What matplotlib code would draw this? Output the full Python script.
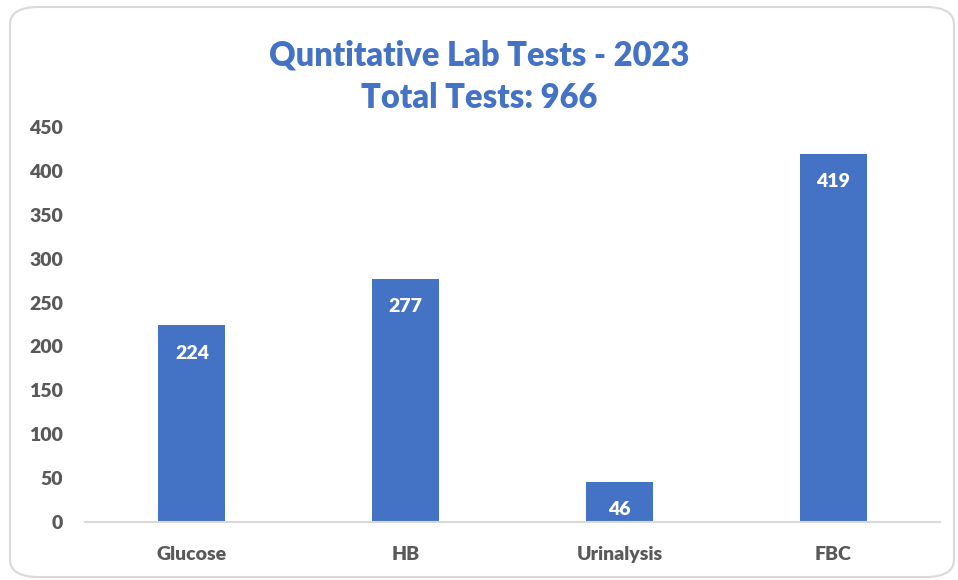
import matplotlib
matplotlib.use("Agg")
import matplotlib.pyplot as plt
from matplotlib.patches import FancyBboxPatch

categories = ["Glucose", "HB", "Urinalysis", "FBC"]
values = [224, 277, 46, 419]
yticks = [0, 50, 100, 150, 200, 250, 300, 350, 400, 450]
title_lines = ["Quntitative Lab Tests - 2023", "Total Tests: 966"]

plt.rcParams['font.family'] = ['Lato', 'DejaVu Sans']
blue = "#4472C4"
gray = "#595959"
W = 'heavy'

fig = plt.figure(figsize=(9.58, 5.8), dpi=100)
fig.patch.set_facecolor("white")
border = FancyBboxPatch((10/958, 3/580), 944/958, 570/580,
                        boxstyle="round,pad=0,rounding_size=0.03",
                        transform=fig.transFigure, facecolor="none",
                        edgecolor="#D9D9D9", linewidth=1.5, zorder=-1)
fig.patches.append(border)

ax = fig.add_axes([85/958, 1-522/580, 855/958, (522-127)/580])
ax.set_facecolor("none")
x = range(len(categories))
bars = ax.bar(x, values, width=0.313, color=blue, zorder=2)
ax.set_xlim(-0.5, len(categories)-0.5)
ax.set_ylim(0, 450)
ax.set_yticks(yticks)
ax.set_yticklabels([str(t) for t in yticks], fontsize=14, fontweight=W, color=gray)
ax.set_xticks(list(x))
ax.set_xticklabels(categories, fontsize=14, fontweight=W, color=gray)
ax.tick_params(axis='both', length=0)
ax.tick_params(axis='x', pad=17)
ax.tick_params(axis='y', pad=16)
for s in ['top', 'right', 'left']:
    ax.spines[s].set_visible(False)
ax.spines['bottom'].set_color("#D9D9D9")
ax.spines['bottom'].set_linewidth(1.5)

for b, v in zip(bars, values):
    ax.annotate(str(v), (b.get_x()+b.get_width()/2, v), xytext=(0, -20),
                textcoords='offset points', ha='center', va='center',
                fontsize=14, fontweight=W, color='white')

fig.text(0.5, 1-55/580, title_lines[0], ha='center', va='center',
         fontsize=23.5, fontweight=W, color=blue)
fig.text(0.5, 1-98/580, title_lines[1], ha='center', va='center',
         fontsize=23.5, fontweight=W, color=blue)

fig.savefig("out.png", dpi=100, facecolor="white")
